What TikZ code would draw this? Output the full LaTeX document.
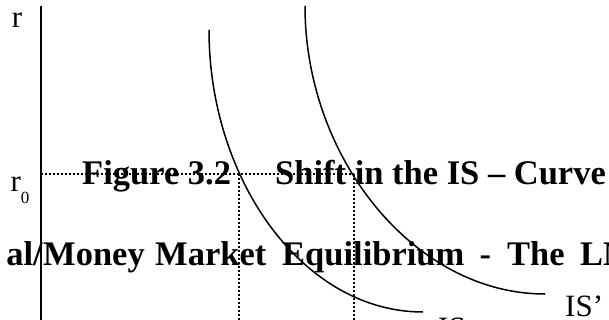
\documentclass[tikz,border=0pt]{standalone}
\usepackage{fontspec}
\setmainfont{Liberation Serif}
\begin{document}
\begin{tikzpicture}[x=1pt,y=-1pt,
  titletext/.style={inner sep=0pt,font=\fontsize{34.5pt}{36pt}\selectfont\bfseries},
  labeltext/.style={inner sep=0pt,font=\fontsize{31pt}{33pt}\selectfont},
  curve/.style={line width=1.5pt},
  axisline/.style={line width=1.7pt},
  guide/.style={line width=1.5pt,dash pattern=on 2pt off 2pt}]
\clip (0,0) rectangle (609,320);
% titles
\node[titletext,anchor=base west] (t1a) at (82,185) {Figure 3.2};
\node[titletext,anchor=base west] (t1b) at (275,185) {Shift in the IS – Curve};
\node[titletext,anchor=base east] (t2a) at (43,265) {al/};
\node[titletext,anchor=base west] (t2b) at (43,265) {Money};
\node[titletext,anchor=base west] (t2c) at (155,265) {Market};
\node[titletext,anchor=base west] (t2d) at (282,265) {Equilibrium};
\node[titletext,anchor=base west] (t2e) at (479.5,265) {-};
\node[titletext,anchor=base west] (t2f) at (507,265) {The};
\node[titletext,anchor=base west] (t2g) at (580,265) {LM};
% axis
\coordinate (axtop) at (41,6);
\coordinate (axbot) at (41,320);
\draw[axisline] (axtop) -- (axbot);
\node[labeltext,anchor=base] (rlab) at (17,28) {r};
\node[labeltext,anchor=base] (r0lab) at (20,191) {r\raisebox{-13pt}{\fontsize{17pt}{17pt}\selectfont 0}};
% curves
\coordinate (c1s) at (209,30);
\coordinate (c1e) at (423,312);
\coordinate (c2s) at (305,6);
\coordinate (c2e) at (545,294);
\draw[curve] (c1s) .. controls (209,180) and (303,312) .. (c1e);
\draw[curve] (c2s) .. controls (305,159) and (415,294) .. (c2e);
\node[labeltext,anchor=base west] (isp) at (565,316) {IS’};
\node[labeltext,anchor=north west] (is) at (438,318) {IS};
% guides
\coordinate (r0) at (41,174);
\coordinate (e1) at (239,174);
\coordinate (e2) at (354,174);
\coordinate (y1) at (239,320);
\coordinate (y2) at (354,320);
\draw[guide] (r0) -- (e2);
\draw[guide] (e1) -- (y1);
\draw[guide] (e2) -- (y2);
\end{tikzpicture}
\end{document}
